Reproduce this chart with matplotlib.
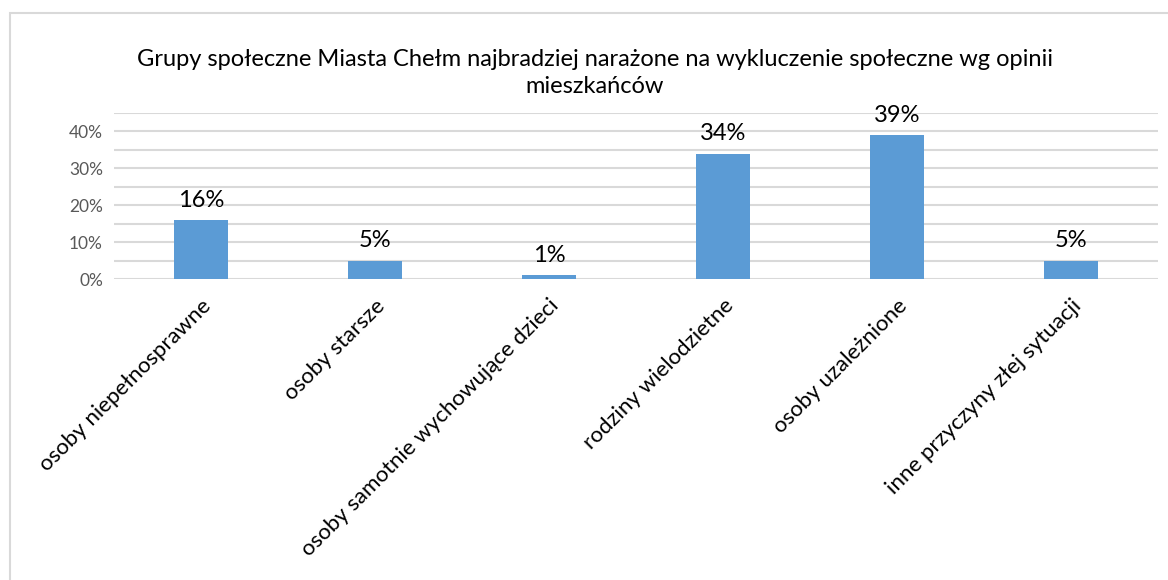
import numpy as np
import matplotlib.pyplot as plt
from matplotlib.patches import Rectangle

plt.rcParams['font.family'] = ['Lato', 'DejaVu Sans']

# dane
kategorie = ['osoby niepełnosprawne', 'osoby starsze', 'osoby samotnie wychowujące dzieci',
             'rodziny wielodzietne', 'osoby uzależnione', 'inne przyczyny złej sytuacji']
wartosci = [16, 5, 1, 34, 39, 5]
tytul = 'Grupy społeczne Miasta Chełm najbradziej narażone na wykluczenie społeczne wg opinii\nmieszkańców'

fig = plt.figure(figsize=(11.68, 5.8), dpi=100)
fig.patches.append(Rectangle((10/1168, -0.5), 2, 1.5 - 13/580, transform=fig.transFigure,
                             fill=False, edgecolor='#d9d9d9', linewidth=1.5))
ax = fig.add_axes([114/1168, 1 - 279/580, 1044/1168, 166/580])

x = np.arange(len(kategorie))
ax.bar(x, wartosci, width=0.316, color='#5b9bd5', zorder=3)
for xi, v in zip(x, wartosci):
    ax.annotate(f'{v}%', (xi, v), xytext=(0, 9.5), textcoords='offset points',
                ha='center', va='baseline', fontsize=17, color='black')

ax.set_xlim(-0.5, len(kategorie) - 0.5)
ax.set_ylim(0, 45)
ax.set_yticks(np.arange(0, 41, 10))
ax.set_yticklabels([f'{t}%' for t in range(0, 41, 10)], fontsize=12.5, color='#595959')
ax.set_yticks(np.arange(0, 46, 5), minor=True)
ax.grid(axis='y', which='both', color='#d9d9d9', linewidth=1.5, zorder=0)
ax.tick_params(axis='y', which='both', length=0, pad=8)
ax.set_xticks(x)
ax.set_xticklabels(kategorie, rotation=45, ha='right', rotation_mode='anchor', fontsize=16)
ax.tick_params(axis='x', length=0, pad=12)
for s in ax.spines.values():
    s.set_visible(False)

fig.text(595/1168, 1 - 73/580, tytul, ha='center', va='center', fontsize=17, linespacing=1.3)

plt.savefig('out.png', dpi=100)
